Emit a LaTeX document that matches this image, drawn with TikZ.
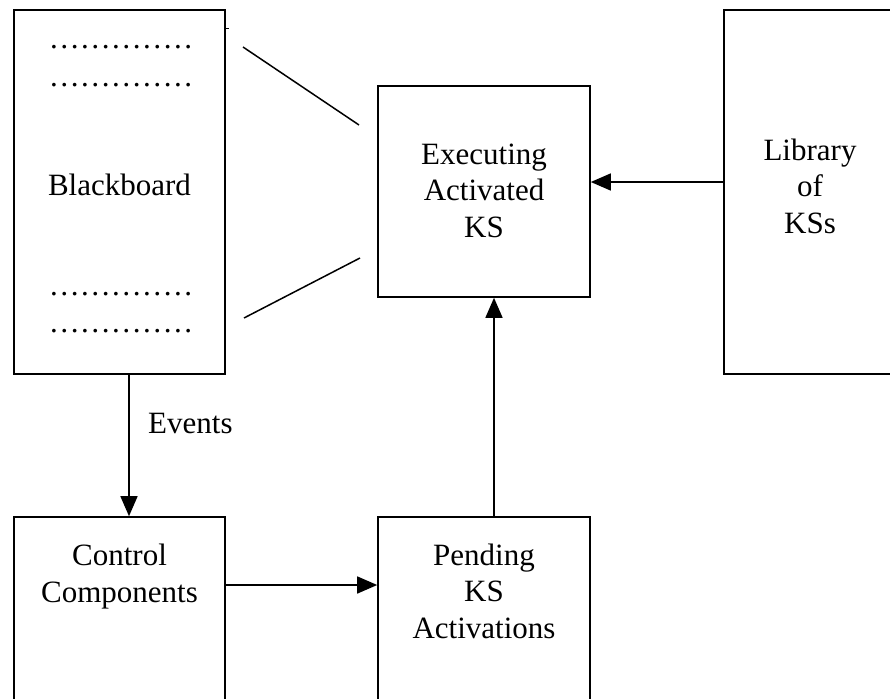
\documentclass[tikz,border=0pt]{standalone}
\usepackage{fontspec}
\setmainfont{Liberation Serif}
\usetikzlibrary{arrows.meta}
\begin{document}
\begin{tikzpicture}[x=1pt,y=-1pt,
  box/.style={draw,line width=1.6pt,rectangle,inner sep=0pt},
  lbl/.style={font=\fontsize{31}{36.5}\selectfont,align=center,inner sep=0pt,anchor=base},
  dots/.style={font=\fontsize{31}{36.5}\selectfont,inner sep=0pt,anchor=base},
  conn/.style={line width=1.5pt},
  arr/.style={line width=1.5pt,-{Triangle[length=20pt,width=17pt]}}]
\useasboundingbox (0,0) rectangle (890,698);
\clip (0,0) rectangle (890,698);
% boxes
\node[box,minimum width=211pt,minimum height=364pt] (bb) at (119.5,192) {};
\node[box,minimum width=212pt,minimum height=211pt] (ex) at (484,191.5) {};
\node[box,minimum width=216pt,minimum height=364pt] (lib) at (832,192) {};
\node[box,minimum width=211pt,minimum height=243pt] (ctl) at (119.5,638.5) {};
\node[box,minimum width=212pt,minimum height=243pt] (pend) at (484,638.5) {};
% texts (anchor = baseline of last line)
\node[lbl] (bbt) at (119.5,195) {Blackboard};
\node[lbl] (ext) at (484,237) {Executing\\Activated\\KS};
\node[lbl] (libt) at (810,233) {Library\\of\\KSs};
\node[lbl] (ctlt) at (119.5,602) {Control\\Components};
\node[lbl] (pendt) at (484,638) {Pending\\KS\\Activations};
\newcommand{\dotrow}{…………\kern0.04em.\kern0.083em.}
\node[dots] (d1) at (120.5,49) {\dotrow};
\node[dots] (d2) at (120.5,87) {\dotrow};
\node[dots] (d3) at (120.5,295) {\dotrow};
\node[dots] (d4) at (120.5,332) {\dotrow};
% small tick on blackboard edge
\coordinate (tk1) at (bb.north east |- 0,29);
\coordinate (tk2) at (229,29);
\draw[line width=1pt] (tk1) -- (tk2);
% free lines
\coordinate (u1) at (243,47);
\coordinate (u2) at (359,125);
\coordinate (l1) at (244,318);
\coordinate (l2) at (360,258);
\draw[conn] (u1) -- (u2);
\draw[conn] (l1) -- (l2);
% arrows
\draw[arr] (bb.south -| 129,0) -- (ctl.north -| 129,0);
\node[lbl,anchor=base west] (evt) at (148,433) {Events};
\draw[arr] (ctl.east |- 0,585) -- (pend.west |- 0,585);
\draw[arr] (pend.north -| 494,0) -- (ex.south -| 494,0);
\draw[arr] (lib.west |- 0,182) -- (ex.east |- 0,182);
\end{tikzpicture}
\end{document}
